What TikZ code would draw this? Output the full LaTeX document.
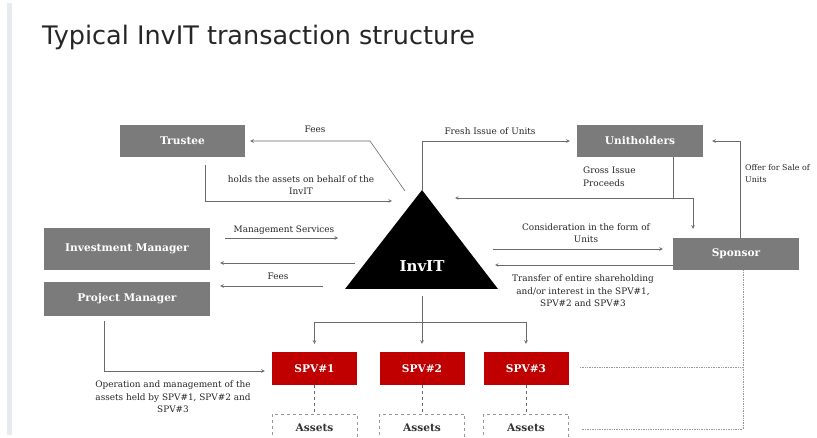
\documentclass[tikz,border=0pt]{standalone}
\usepackage{tikz}
\usepackage{xcolor}
\usepackage{fontspec}
\setmainfont{DejaVu Serif}
\newfontfamily\titlefont{DejaVu Sans}
\usetikzlibrary{arrows, positioning, calc}
\definecolor{boxgrey}{HTML}{7B7B7B}
\definecolor{spvred}{HTML}{C00000}
\definecolor{linegrey}{HTML}{6A6A6A}
\definecolor{barblue}{HTML}{E6EBF2}
\tikzstyle{greybox} = [rectangle, fill=boxgrey, text=white, font=\bfseries\fontsize{10.6}{12}\selectfont, inner sep=0pt]
\tikzstyle{spvbox} = [rectangle, fill=spvred, text=white, font=\bfseries\fontsize{10.6}{12}\selectfont, minimum width=85pt, minimum height=33pt, inner sep=0pt]
\tikzstyle{assetbox} = [rectangle, draw=linegrey!70, dashed, text=black!80, font=\bfseries\fontsize{10.6}{12}\selectfont, minimum width=85pt, minimum height=28pt, inner sep=0pt]
\tikzstyle{flow} = [draw=linegrey, line width=0.6pt, ->, >=stealth]
\tikzstyle{plain} = [draw=linegrey, line width=0.6pt]
\tikzstyle{sponsorlink} = [draw=linegrey!70, line width=0.7pt, densely dotted]
\tikzstyle{note} = [font=\fontsize{8.9}{12.5}\selectfont, text=black!85, align=center, inner sep=0pt]

\begin{document}
\begin{tikzpicture}[x=1pt, y=-1pt]
    \useasboundingbox (0,0) rectangle (817,438);
    \fill[white] (0,0) rectangle (817,438);
    \fill[barblue] (7,3) rectangle (12,435);
    \node[anchor=base west, inner sep=0pt, font=\titlefont\fontsize{25.5}{30}\selectfont, text=black!85] (title) at (42,45) {Typical InvIT transaction structure};

    % parties
    \node[greybox, minimum width=125pt, minimum height=32pt] (trustee) at (182.5,141) {Trustee};
    \node[greybox, minimum width=126pt, minimum height=32pt] (unitholders) at (640,141) {Unitholders};
    \node[greybox, minimum width=166pt, minimum height=42pt] (invman) at (127,249) {Investment Manager};
    \node[greybox, minimum width=166pt, minimum height=34pt] (projman) at (127,299) {Project Manager};
    \node[greybox, minimum width=126pt, minimum height=32pt] (sponsor) at (736,254) {Sponsor};

    % the trust
    \coordinate (apex) at (422,190);
    \coordinate (baseL) at (345,289);
    \coordinate (baseR) at (498,289);
    \coordinate (baseM) at (422,289);
    \fill[black] (apex) -- (baseL) -- (baseR) -- cycle;
    \node[text=white, font=\bfseries\fontsize{15}{18}\selectfont, inner sep=0pt] (invit) at (422,266) {InvIT};

    % SPVs and assets
    \node[spvbox] (spv1) at (314.5,368.5) {SPV\#1};
    \node[spvbox] (spv2) at (422,368.5) {SPV\#2};
    \node[spvbox] (spv3) at (526,368.5) {SPV\#3};
    \node[assetbox] (assets1) at (314.5,428) {Assets};
    \node[assetbox] (assets2) at (422,428) {Assets};
    \node[assetbox] (assets3) at (526,428) {Assets};

    % free ends
    \coordinate (feesT) at (405,191);
    \coordinate (holdsEnd) at (392,201);
    \coordinate (grossJ) at (693,198);
    \coordinate (grossIn) at (455,198);
    \coordinate (consStart) at (493,249);
    \coordinate (transIn) at (495,265);
    \coordinate (msEnd) at (338,238);
    \coordinate (feesIM) at (355,263);
    \coordinate (feesPM) at (323,286);
    \coordinate (split) at (422,322);
    \coordinate (dotCol) at ([xshift=7pt]sponsor.south);
    \coordinate (dotMid) at (580,367);
    \coordinate (dotEnd) at (582,429);

    % trustee
    \draw[flow, shorten >=5pt] (feesT) -- ++(-35,-50) -- (trustee.east);
    \node[note] (feesTlbl) at (315,129) {Fees};
    \draw[flow, shorten <=8pt] ([xshift=22.5pt]trustee.south) |- (holdsEnd);
    \node[note] (holdslbl) at (301,185) {holds the assets on behalf of the\\InvIT};

    % unitholders
    \draw[flow, shorten >=7pt] (apex) |- (unitholders.west);
    \node[note] (freshlbl) at (490,131) {Fresh Issue of Units};
    \draw[plain] ([xshift=33pt]unitholders.south) -- ([xshift=33pt]unitholders.south |- grossJ);
    \draw[flow] (grossJ) -- (grossIn);
    \draw[flow, shorten >=9pt] (grossJ) -- ([xshift=-43pt]sponsor.north);
    \node[note, align=left, anchor=north west] (grosslbl) at (583,167) {Gross Issue\\Proceeds};

    % sponsor
    \draw[flow, shorten >=9pt] ([xshift=4pt]sponsor.north) |- (unitholders.east);
    \node[note, align=left, anchor=north west, font=\fontsize{7.9}{12.5}\selectfont] (offerlbl) at (745,164) {Offer for Sale of\\Units};
    \draw[flow, shorten >=10pt] (consStart) -- ([yshift=5pt]sponsor.west);
    \node[note] (conslbl) at (586,233) {Consideration in the form of\\Units};
    \draw[flow] ([yshift=-11pt]sponsor.west) -- (transIn);
    \node[note] (translbl) at (583,291) {Transfer of entire shareholding\\and/or interest in the SPV\#1,\\SPV\#2 and SPV\#3};

    % managers
    \draw[flow, shorten <=15pt] ([yshift=11pt]invman.east) -- (msEnd);
    \node[note] (mslbl) at (284,230) {Management Services};
    \draw[flow, shorten >=10pt] (feesIM) -- ([yshift=-14pt]invman.east);
    \draw[flow, shorten >=10pt] (feesPM) -- ([yshift=13pt]projman.east);
    \node[note] (feesMlbl) at (278,276) {Fees};
    \draw[flow, shorten <=5pt, shorten >=7pt] ([xshift=-23pt]projman.south) |- ([yshift=-2.5pt]spv1.west);
    \node[note] (operlbl) at (173,397) {Operation and management of the\\assets held by SPV\#1, SPV\#2 and\\SPV\#3};

    % InvIT to SPVs
    \draw[plain, shorten <=7pt] (baseM) -- (split);
    \draw[flow, shorten >=8pt] (split) -| (spv1.north);
    \draw[flow, shorten >=8pt] (split) -- (spv2.north);
    \draw[flow, shorten >=8pt] (split) -| (spv3.north);
    \draw[plain, dashed] (spv1) -- (assets1);
    \draw[plain, dashed] (spv2) -- (assets2);
    \draw[plain, dashed] (spv3) -- (assets3);

    % sponsor link to SPVs
    \draw[sponsorlink] (dotCol) |- (dotEnd);
    \draw[sponsorlink] (dotMid) -- (dotMid -| dotCol);
\end{tikzpicture}
\end{document}
